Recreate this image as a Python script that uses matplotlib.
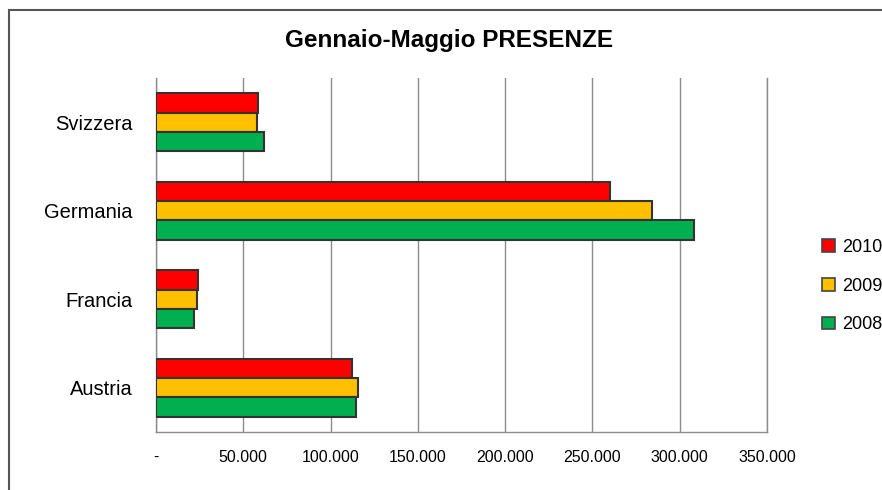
import numpy as np
import matplotlib
matplotlib.use('Agg')
import matplotlib.pyplot as plt
from matplotlib.patches import Rectangle, Patch

plt.rcParams['font.family'] = ['Liberation Sans', 'DejaVu Sans']

# data (bottom to top)
countries = ['Austria', 'Francia', 'Germania', 'Svizzera']
years = ['2010', '2009', '2008']
pres_2010 = [112300, 23900, 260000, 58300]
pres_2009 = [115600, 23700, 284000, 58000]
pres_2008 = [114400, 21600, 308000, 61800]
colors = ['#FF0000', '#FFC000', '#00B050']
xticks = [0, 50000, 100000, 150000, 200000, 250000, 300000, 350000]

fig = plt.figure(figsize=(8.82, 4.9), dpi=100)
ax = fig.add_axes([156/882, 58/490, 611/882, 354/490])

# outer chart frame
fig.patches.append(Rectangle((9/882, -0.1), 1.2, (490-9.5)/490 + 0.1,
                             transform=fig.transFigure, fill=False,
                             edgecolor='#555555', lw=1.5, zorder=0))

y = np.arange(len(countries))
h = 0.22
series = [pres_2010, pres_2009, pres_2008]
offsets = [h, 0, -h]
for vals, off, col, lab in zip(series, offsets, colors, years):
    ax.barh(y + off, vals, height=h, color=col, edgecolor='#333333',
            linewidth=1.5, label=lab, zorder=3)

ax.set_xlim(0, 350000)
ax.set_ylim(-0.5, 3.5)
ax.set_xticks(xticks)
ax.set_xticklabels(['-' if t == 0 else '{:,.0f}'.format(t).replace(',', '.') for t in xticks],
                   fontsize=11.5)
ax.set_yticks(y)
ax.set_yticklabels(countries, fontsize=14.5)
ax.tick_params(axis='x', length=0, pad=13)
ax.tick_params(axis='y', length=0, pad=17)
ax.grid(axis='x', color='#8c8c8c', lw=1, zorder=0)
ax.set_axisbelow(True)
ax.spines['top'].set_visible(False)
for s in ['left', 'bottom', 'right']:
    ax.spines[s].set_color('#8c8c8c')
    ax.spines[s].set_linewidth(1)

fig.text(449/882, 1 - 40/490, 'Gennaio-Maggio PRESENZE', ha='center', va='center',
         fontsize=17.5, fontweight='bold')

handles = [Patch(facecolor=c, edgecolor='#444444', lw=1.2) for c in colors]
leg = fig.legend(handles, years, loc='upper left', bbox_to_anchor=(822/882, 1 - 239/490),
                 frameon=False, fontsize=13, handlelength=0.72, handleheight=0.72,
                 handletextpad=0.4, labelspacing=1.2, borderaxespad=0, borderpad=0)

fig.savefig('out.png', dpi=100)
